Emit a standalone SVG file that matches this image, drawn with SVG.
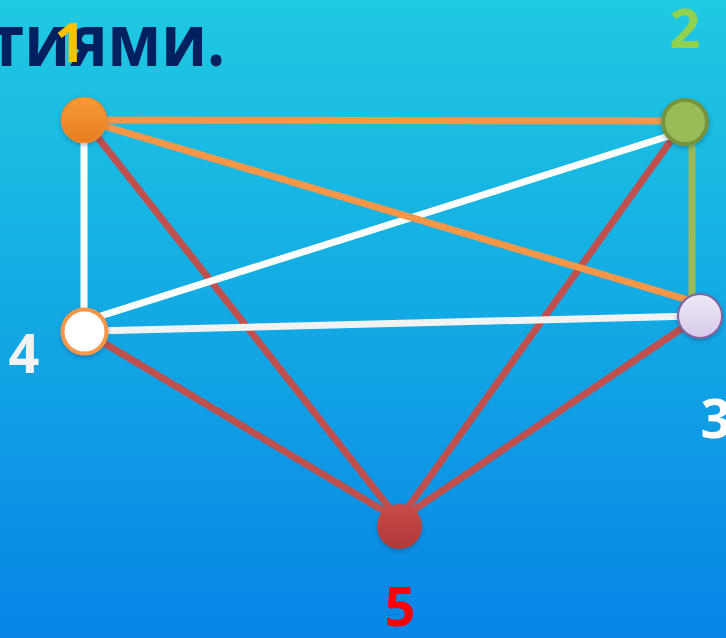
<svg xmlns="http://www.w3.org/2000/svg" width="726" height="638" viewBox="0 0 726 638">
<defs>
<linearGradient id="bg" x1="0" y1="0" x2="0" y2="1">
<stop offset="0" stop-color="#20c9e1"/>
<stop offset="0.5" stop-color="#13a9e4"/>
<stop offset="1" stop-color="#0784e6"/>
</linearGradient>
<linearGradient id="g1" x1="0" y1="0" x2="0" y2="1"><stop offset="0" stop-color="#f99a38"/><stop offset="1" stop-color="#e67e1e"/></linearGradient>
<linearGradient id="g3" x1="0" y1="0" x2="0" y2="1"><stop offset="0" stop-color="#eee9f7"/><stop offset="1" stop-color="#d6cbea"/></linearGradient>
<linearGradient id="g5" x1="0" y1="0" x2="0" y2="1"><stop offset="0" stop-color="#c84a47"/><stop offset="1" stop-color="#b03a38"/></linearGradient>
<filter id="sh" x="-30%" y="-30%" width="160%" height="170%"><feDropShadow dx="0" dy="2" stdDeviation="2" flood-color="#003060" flood-opacity="0.35"/></filter>
</defs>
<style>
.e{stroke-width:7;fill:none;stroke-linecap:butt}
.or{stroke:#f79646}.rd{stroke:#c0504d}.wh{stroke:#ffffff}.gr{stroke:#9bbb59}.lg{stroke:#f2f2f2}
.lbl{font-family:"Open Sans","Liberation Sans",sans-serif;font-weight:bold;font-size:54px;text-anchor:middle}
</style>
<rect width="726" height="638" fill="url(#bg)"/>
<text x="-11" y="66" font-family="'Open Sans','Liberation Sans',sans-serif" font-weight="bold" font-size="72" fill="#002060" textLength="236" lengthAdjust="spacingAndGlyphs">тиями.</text>
<g id="connectors">
<line class="e rd" x1="84" y1="120" x2="399" y2="520"/>
<line class="e rd" x1="84" y1="331" x2="399" y2="520"/>
<line class="e rd" x1="685" y1="121" x2="399" y2="520"/>
<line class="e rd" x1="700" y1="316" x2="399" y2="520"/>
<line class="e wh" x1="84" y1="120" x2="84" y2="331"/>
<line class="e gr" x1="692" y1="121" x2="692" y2="316"/>
<line class="e wh" x1="672" y1="135" x2="88" y2="320"/>
<line class="e or" x1="84" y1="120" x2="695" y2="302"/>
<line class="e or" x1="84" y1="120" x2="685" y2="121"/>
<line class="e lg" x1="92" y1="331" x2="695" y2="316"/>
</g>
<g id="node1"><circle cx="84" cy="120" r="22.5" fill="url(#g1)" stroke="#f08a2a" stroke-width="1.5" filter="url(#sh)"/><text class="lbl" x="70" y="62" fill="#ffc000">1</text></g>
<g id="node2"><circle cx="685" cy="122" r="22" fill="#9bbb59" stroke="#77933c" stroke-width="4" filter="url(#sh)"/><text class="lbl" x="685" y="48" fill="#92d050">2</text></g>
<g id="node3"><circle cx="700" cy="316" r="22" fill="url(#g3)" stroke="#8064a2" stroke-width="2" filter="url(#sh)"/><text class="lbl" x="716" y="438" fill="#ffffff">3</text></g>
<g id="node4"><circle cx="84.5" cy="331.5" r="22" fill="#ffffff" stroke="#f79646" stroke-width="4" filter="url(#sh)"/><text class="lbl" x="24" y="373" fill="#f2f2f2">4</text></g>
<g id="node5"><circle cx="399.5" cy="526.5" r="22.5" fill="url(#g5)" filter="url(#sh)"/><text class="lbl" x="400" y="626" fill="#ff0000">5</text></g>
</svg>
